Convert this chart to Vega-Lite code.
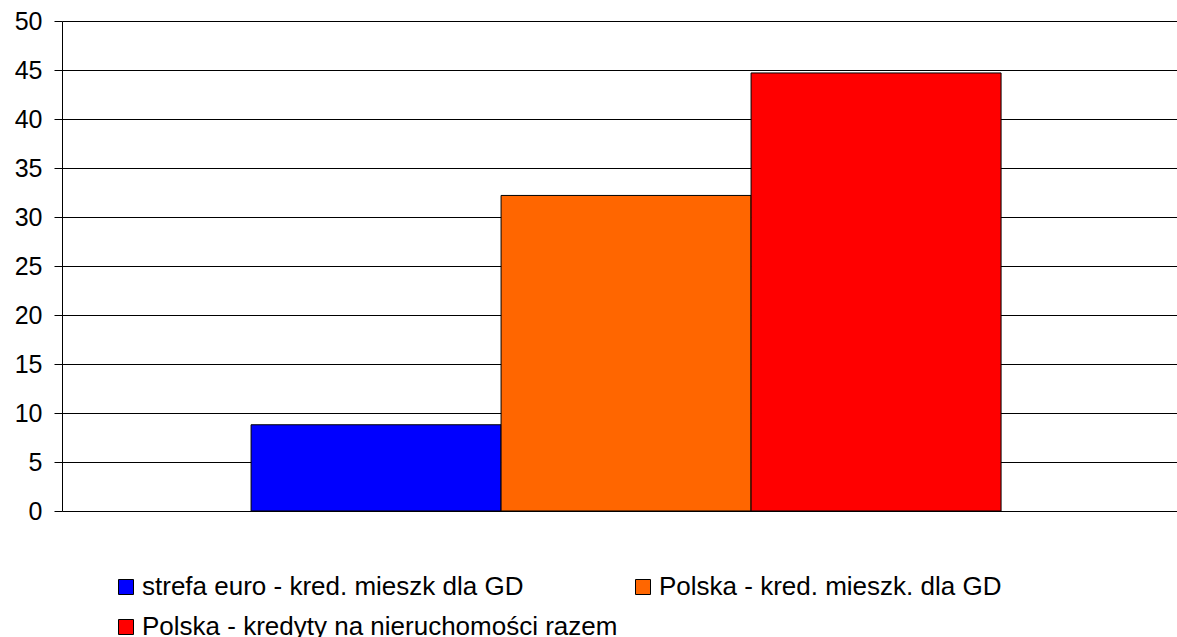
{
  "$schema": "https://vega.github.io/schema/vega-lite/v6.json",
  "autosize": {"type": "none"},
  "width": 1115,
  "height": 490,
  "padding": {"left": 62, "top": 21, "right": 0, "bottom": 126},
  "background": "white",
  "data": {
    "values": [
      {"series": "strefa euro - kred. mieszk dla GD", "value": 8.8},
      {"series": "Polska - kred. mieszk. dla GD", "value": 32.2},
      {"series": "Polska - kredyty na nieruchomości razem", "value": 44.7}
    ]
  },
  "mark": {"type": "bar", "stroke": "black", "strokeWidth": 1},
  "encoding": {
    "x": {
      "field": "series",
      "type": "nominal",
      "sort": null,
      "scale": {"paddingInner": 0, "paddingOuter": 0.73, "align": 0.518},
      "axis": null
    },
    "y": {
      "field": "value",
      "type": "quantitative",
      "scale": {"domain": [0, 50], "nice": false, "zero": true},
      "axis": {
        "title": null,
        "values": [0, 5, 10, 15, 20, 25, 30, 35, 40, 45, 50],
        "grid": true,
        "gridColor": "black",
        "gridOpacity": 1,
        "gridWidth": 1,
        "domainColor": "black",
        "domainWidth": 1,
        "tickColor": "black",
        "tickSize": 8,
        "tickWidth": 1,
        "labelFont": "Liberation Sans",
        "labelFontSize": 25,
        "labelColor": "black",
        "labelPadding": 12
      }
    },
    "color": {
      "field": "series",
      "type": "nominal",
      "sort": null,
      "scale": {
        "domain": ["strefa euro - kred. mieszk dla GD", "Polska - kred. mieszk. dla GD", "Polska - kredyty na nieruchomości razem"],
        "range": ["#0000FF", "#FF6600", "#FF0000"]
      },
      "legend": {
        "title": null,
        "orient": "none",
        "direction": "horizontal",
        "legendX": 51,
        "legendY": 553,
        "columns": 2,
        "columnPadding": 12,
        "rowPadding": 14,
        "padding": 0,
        "symbolType": "square",
        "symbolSize": 225,
        "symbolStrokeColor": "black",
        "symbolStrokeWidth": 1,
        "symbolOpacity": 1,
        "labelFont": "Liberation Sans",
        "labelFontSize": 26,
        "labelColor": "black",
        "labelOffset": 3,
        "labelLimit": 800
      }
    }
  }
}
